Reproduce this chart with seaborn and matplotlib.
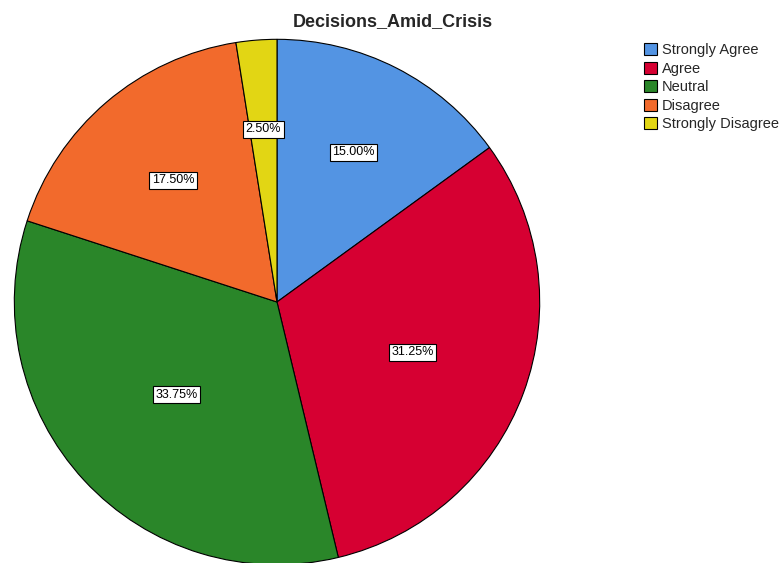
import matplotlib
matplotlib.use('Agg')
import matplotlib.pyplot as plt
import seaborn as sns
import numpy as np
from matplotlib.patches import Patch

categories = ['Strongly Agree', 'Agree', 'Neutral', 'Disagree', 'Strongly Disagree']
percents = [15.00, 31.25, 33.75, 17.50, 2.50]
hex_colors = ['#5394E3', '#D60032', '#2A8629', '#F26A2C', '#E2D614']
label_dist = [0.64, 0.55, 0.52, 0.61, 0.66]

sns.set_style('white')
plt.rcParams['font.family'] = ['Liberation Sans', 'DejaVu Sans']
colors = sns.color_palette(hex_colors)

fig = plt.figure(figsize=(7.79, 5.63), dpi=100)
ax = fig.add_axes([13 / 779, -3 / 563, 528 / 779, 528 / 563])

wedges, texts, autotexts = ax.pie(
    percents, colors=colors, startangle=90, counterclock=False,
    autopct='%.2f%%', pctdistance=0.6, radius=1,
    wedgeprops=dict(edgecolor='black', linewidth=0.8),
    textprops=dict(fontsize=9, color='black'))
for w, t, d in zip(wedges, autotexts, label_dist):
    ang = np.deg2rad((w.theta1 + w.theta2) / 2)
    t.set_position((d * np.cos(ang), d * np.sin(ang)))
    t.set_bbox(dict(boxstyle='square,pad=0.2', facecolor='white', edgecolor='black', linewidth=0.8))
ax.set_xlim(-1.005, 1.005)
ax.set_ylim(-1.005, 1.005)
ax.set_aspect('equal')

fig.text(393 / 779, 1 - 22 / 563, 'Decisions_Amid_Crisis', ha='center', va='center',
         fontsize=13, fontweight='bold')

handles = [Patch(facecolor=c, edgecolor='black', linewidth=0.8) for c in colors]
fig.legend(handles, categories, loc='upper left', bbox_to_anchor=(634 / 779, 1 - 33 / 563),
           frameon=False, fontsize=10.5, handlelength=0.9, handleheight=0.9,
           handletextpad=0.3, labelspacing=0.3, borderpad=0.2)

fig.savefig('out.png', dpi=100)
